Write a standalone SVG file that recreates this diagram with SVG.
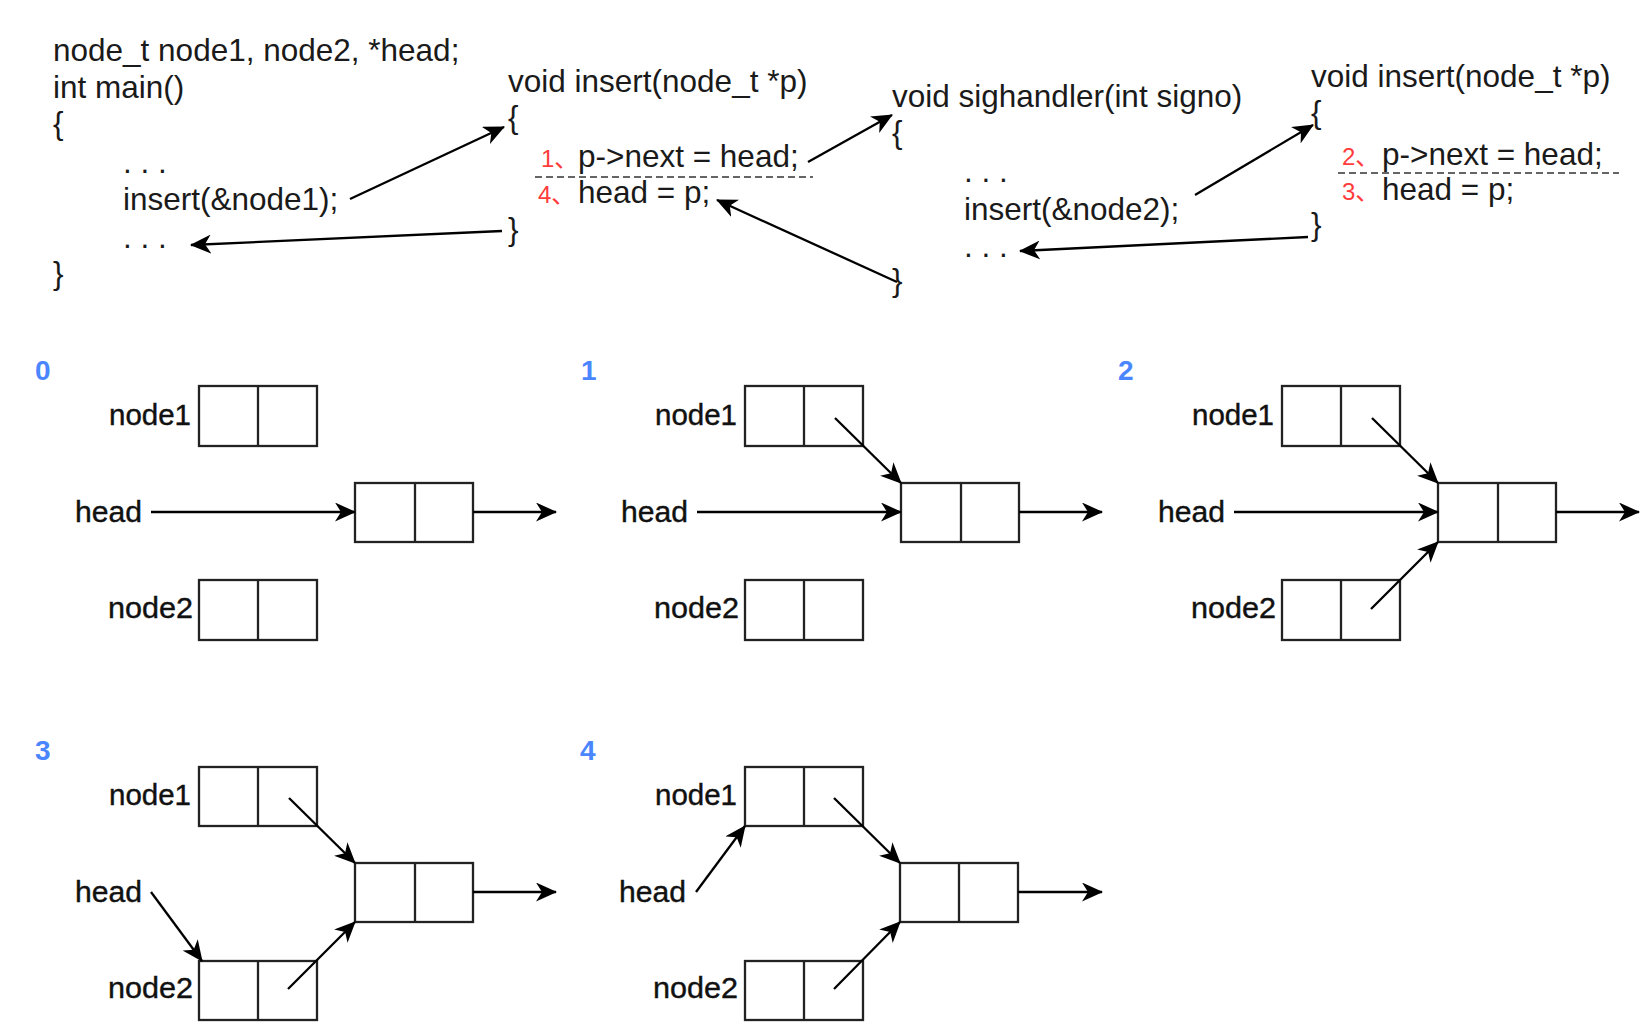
<svg xmlns="http://www.w3.org/2000/svg" width="1652" height="1033" viewBox="0 0 1652 1033">
<defs>
<style>
.code{font-family:"Liberation Sans",Arial,sans-serif;font-size:31.5px;fill:#1a1a1a}
.red{font-family:"Liberation Sans","Noto Sans CJK SC",sans-serif;font-size:24px;fill:#ff3b3b}
.lbl{font-family:"Liberation Sans",Arial,sans-serif;font-size:29px;fill:#111;stroke:#111;stroke-width:0.4}
.num{font-family:"Liberation Sans",Arial,sans-serif;font-size:28px;font-weight:bold;fill:#4a86ff}
.box{fill:#fff;stroke:#222;stroke-width:2.3}
.div{stroke:#222;stroke-width:2.3}
.dash{stroke:#333;stroke-width:1.6;stroke-dasharray:7 4}
.arr{stroke:#000;stroke-width:2.3;fill:none;marker-end:url(#ah)}
</style>
<marker id="ah" viewBox="0 0 21 19" refX="20" refY="9.5" markerWidth="21" markerHeight="19" markerUnits="userSpaceOnUse" orient="auto">
<path d="M0,0 L21,9.5 L0,19 L6,9.5 Z" fill="#000"/>
</marker>
</defs>
<rect width="1652" height="1033" fill="#fff"/>

<g id="code-main">
<text class="code" x="53" y="61">node_t node1, node2, *head;</text>
<text class="code" x="53" y="98">int main()</text>
<text class="code" x="53" y="134">{</text>
<text class="code" x="123" y="173">. . .</text>
<text class="code" x="123" y="210">insert(&amp;node1);</text>
<text class="code" x="123" y="248">. . .</text>
<text class="code" x="53" y="284">}</text>
</g>

<g id="code-insert1">
<text class="code" x="508" y="92">void insert(node_t *p)</text>
<text class="code" x="508" y="128">{</text>
<text class="red" x="541" y="167">1、</text>
<text class="code" x="578" y="167">p-&gt;next = head;</text>
<line class="dash" x1="535" y1="177" x2="813" y2="177"/>
<text class="red" x="538" y="203">4、</text>
<text class="code" x="578" y="203">head = p;</text>
<text class="code" x="508" y="240">}</text>
</g>

<g id="code-sighandler">
<text class="code" x="892" y="107">void sighandler(int signo)</text>
<text class="code" x="892" y="143">{</text>
<text class="code" x="964" y="182">. . .</text>
<text class="code" x="964" y="220">insert(&amp;node2);</text>
<text class="code" x="964" y="257">. . .</text>
<text class="code" x="892" y="291">}</text>
</g>

<g id="code-insert2">
<text class="code" x="1311" y="87">void insert(node_t *p)</text>
<text class="code" x="1311" y="123">{</text>
<text class="red" x="1342" y="165">2、</text>
<text class="code" x="1382" y="165">p-&gt;next = head;</text>
<line class="dash" x1="1338" y1="173" x2="1619" y2="173"/>
<text class="red" x="1342" y="200">3、</text>
<text class="code" x="1382" y="200">head = p;</text>
<text class="code" x="1311" y="235">}</text>
</g>

<!-- Panel 0 -->
<g id="panel0">
<text class="num" x="35" y="380">0</text>
<g id="p0-node1"><text class="lbl" x="109" y="425" textLength="82" lengthAdjust="spacingAndGlyphs">node1</text><rect class="box" x="199" y="386" width="118" height="60"/><line class="div" x1="258" y1="386" x2="258" y2="446"/></g>
<g id="p0-head"><text class="lbl" x="75" y="522" textLength="67" lengthAdjust="spacingAndGlyphs">head</text></g>
<g id="p0-mid"><rect class="box" x="355" y="483" width="118" height="59"/><line class="div" x1="415" y1="483" x2="415" y2="542"/></g>
<g id="p0-node2"><text class="lbl" x="108" y="618" textLength="85" lengthAdjust="spacingAndGlyphs">node2</text><rect class="box" x="199" y="580" width="118" height="60"/><line class="div" x1="258" y1="580" x2="258" y2="640"/></g>
</g>

<!-- Panel 1 -->
<g id="panel1">
<text class="num" x="581" y="380">1</text>
<g id="p1-node1"><text class="lbl" x="655" y="425" textLength="82" lengthAdjust="spacingAndGlyphs">node1</text><rect class="box" x="745" y="386" width="118" height="60"/><line class="div" x1="804" y1="386" x2="804" y2="446"/></g>
<g id="p1-head"><text class="lbl" x="621" y="522" textLength="67" lengthAdjust="spacingAndGlyphs">head</text></g>
<g id="p1-mid"><rect class="box" x="901" y="483" width="118" height="59"/><line class="div" x1="961" y1="483" x2="961" y2="542"/></g>
<g id="p1-node2"><text class="lbl" x="654" y="618" textLength="85" lengthAdjust="spacingAndGlyphs">node2</text><rect class="box" x="745" y="580" width="118" height="60"/><line class="div" x1="804" y1="580" x2="804" y2="640"/></g>
</g>

<!-- Panel 2 -->
<g id="panel2">
<text class="num" x="1118" y="380">2</text>
<g id="p2-node1"><text class="lbl" x="1192" y="425" textLength="82" lengthAdjust="spacingAndGlyphs">node1</text><rect class="box" x="1282" y="386" width="118" height="60"/><line class="div" x1="1341" y1="386" x2="1341" y2="446"/></g>
<g id="p2-head"><text class="lbl" x="1158" y="522" textLength="67" lengthAdjust="spacingAndGlyphs">head</text></g>
<g id="p2-mid"><rect class="box" x="1438" y="483" width="118" height="59"/><line class="div" x1="1498" y1="483" x2="1498" y2="542"/></g>
<g id="p2-node2"><text class="lbl" x="1191" y="618" textLength="85" lengthAdjust="spacingAndGlyphs">node2</text><rect class="box" x="1282" y="580" width="118" height="60"/><line class="div" x1="1341" y1="580" x2="1341" y2="640"/></g>
</g>

<!-- Panel 3 -->
<g id="panel3">
<text class="num" x="35" y="760">3</text>
<g id="p3-node1"><text class="lbl" x="109" y="805" textLength="82" lengthAdjust="spacingAndGlyphs">node1</text><rect class="box" x="199" y="767" width="118" height="59"/><line class="div" x1="258" y1="767" x2="258" y2="826"/></g>
<g id="p3-head"><text class="lbl" x="75" y="902" textLength="67" lengthAdjust="spacingAndGlyphs">head</text></g>
<g id="p3-mid"><rect class="box" x="355" y="863" width="118" height="59"/><line class="div" x1="415" y1="863" x2="415" y2="922"/></g>
<g id="p3-node2"><text class="lbl" x="108" y="998" textLength="85" lengthAdjust="spacingAndGlyphs">node2</text><rect class="box" x="199" y="961" width="118" height="59"/><line class="div" x1="258" y1="961" x2="258" y2="1020"/></g>
</g>

<!-- Panel 4 -->
<g id="panel4">
<text class="num" x="580" y="760">4</text>
<g id="p4-node1"><text class="lbl" x="655" y="805" textLength="82" lengthAdjust="spacingAndGlyphs">node1</text><rect class="box" x="745" y="767" width="118" height="59"/><line class="div" x1="804" y1="767" x2="804" y2="826"/></g>
<g id="p4-head"><text class="lbl" x="619" y="902" textLength="67" lengthAdjust="spacingAndGlyphs">head</text></g>
<g id="p4-mid"><rect class="box" x="900" y="863" width="118" height="59"/><line class="div" x1="959" y1="863" x2="959" y2="922"/></g>
<g id="p4-node2"><text class="lbl" x="653" y="998" textLength="85" lengthAdjust="spacingAndGlyphs">node2</text><rect class="box" x="745" y="961" width="118" height="59"/><line class="div" x1="804" y1="961" x2="804" y2="1020"/></g>
</g>

<g id="connectors">
<line class="arr" x1="350" y1="199" x2="504" y2="127"/>
<line class="arr" x1="502" y1="231" x2="191" y2="245"/>
<line class="arr" x1="808" y1="162" x2="892" y2="115"/>
<line class="arr" x1="897" y1="282" x2="717" y2="200"/>
<line class="arr" x1="1195" y1="195" x2="1313" y2="125"/>
<line class="arr" x1="1308" y1="237" x2="1020" y2="251"/>

<line class="arr" x1="151" y1="512" x2="355" y2="512"/>
<line class="arr" x1="473" y1="512" x2="556" y2="512"/>

<line class="arr" x1="697" y1="512" x2="901" y2="512"/>
<line class="arr" x1="1019" y1="512" x2="1102" y2="512"/>
<line class="arr" x1="835" y1="418" x2="901" y2="483"/>

<line class="arr" x1="1234" y1="512" x2="1438" y2="512"/>
<line class="arr" x1="1556" y1="512" x2="1639" y2="512"/>
<line class="arr" x1="1372" y1="418" x2="1438" y2="483"/>
<line class="arr" x1="1371" y1="609" x2="1438" y2="542"/>

<line class="arr" x1="473" y1="892" x2="556" y2="892"/>
<line class="arr" x1="289" y1="798" x2="355" y2="863"/>
<line class="arr" x1="288" y1="989" x2="355" y2="922"/>
<line class="arr" x1="151" y1="892" x2="202" y2="961"/>

<line class="arr" x1="1018" y1="892" x2="1102" y2="892"/>
<line class="arr" x1="834" y1="798" x2="900" y2="863"/>
<line class="arr" x1="834" y1="989" x2="900" y2="922"/>
<line class="arr" x1="696" y1="892" x2="745" y2="826"/>
</g>
</svg>
